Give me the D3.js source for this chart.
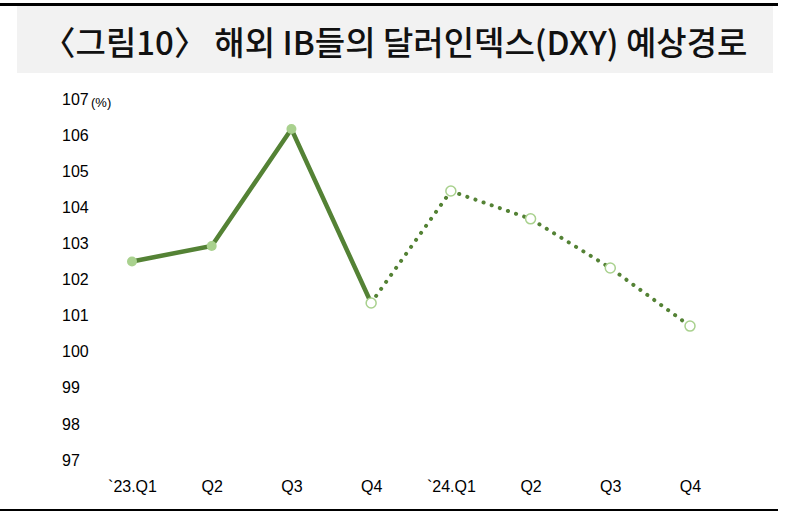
<!DOCTYPE html><html><head><meta charset="utf-8"><script src="https://cdn.jsdelivr.net/npm/d3@7"></script>
<style>body{margin:0;background:#fff}</style></head><body><svg id="c" width="800" height="515"></svg><script>
const categories=["`23.Q1","Q2","Q3","Q4","`24.Q1","Q2","Q3","Q4"];
const values=[102.5,102.93,106.17,101.35,104.45,103.68,102.32,100.71];
const actualCount=4;
const yTicks=[97,98,99,100,101,102,103,104,105,106,107];
const svg=d3.select("#c");
svg.append("rect").attr("x",0).attr("y",3).attr("width",778).attr("height",3).attr("fill","#000");
svg.append("rect").attr("x",17).attr("y",6).attr("width",756).attr("height",67).attr("fill","#f2f2f2");
svg.append("text").attr("x",395).attr("y",55).attr("text-anchor","middle").attr("font-family","'Noto Sans CJK KR'").attr("font-weight",500).attr("font-size",33).attr("textLength",705).attr("lengthAdjust","spacingAndGlyphs").attr("fill","#111").text("〈그림10〉 해외 IB들의 달러인덱스(DXY) 예상경로");
svg.append("rect").attr("x",0).attr("y",509).attr("width",778).attr("height",2).attr("fill","#000");
const x=d3.scalePoint().domain(d3.range(categories.length)).range([132,690]);
const y=d3.scaleLinear().domain([97,107]).range([460,99]);
const ff="'Liberation Sans Narrow','Liberation Sans',sans-serif";
const ya=svg.append("g").attr("transform","translate(62,0)").call(d3.axisRight(y).tickValues(yTicks).tickSize(0).tickFormat(d3.format("d")));
ya.select(".domain").remove();ya.selectAll("text").attr("font-size",16).attr("font-family",ff).attr("fill","#000").attr("dx",-3);
svg.append("text").attr("x",91).attr("y",107).attr("font-size",13).attr("font-family",ff).text("(%)");
const xa=svg.append("g").attr("transform","translate(0,478)").call(d3.axisBottom(x).tickSize(0).tickFormat(i=>categories[i]));
xa.select(".domain").remove();xa.selectAll("text").attr("font-size",16).attr("font-family",ff).attr("fill","#000");
const line=d3.line().x((d,i)=>x(d.i)).y(d=>y(d.v));
const pts=values.map((v,i)=>({v,i}));
svg.append("path").datum(pts.slice(0,actualCount)).attr("d",line).attr("fill","none").attr("stroke","#548235").attr("stroke-width",4.5);
svg.append("path").datum(pts.slice(actualCount-1)).attr("d",line).attr("fill","none").attr("stroke","#548235").attr("stroke-width",4).attr("stroke-linecap","round").attr("stroke-dasharray","0.1 8.5");
svg.selectAll(".p").data(pts).join("circle").attr("cx",d=>x(d.i)).attr("cy",d=>y(d.v)).attr("r",5)
 .attr("fill",d=>d.i<actualCount-1?"#a9d18e":"#fff").attr("stroke","#a9d18e").attr("stroke-width",d=>d.i<actualCount-1?0:1.5);
</script></body></html>
